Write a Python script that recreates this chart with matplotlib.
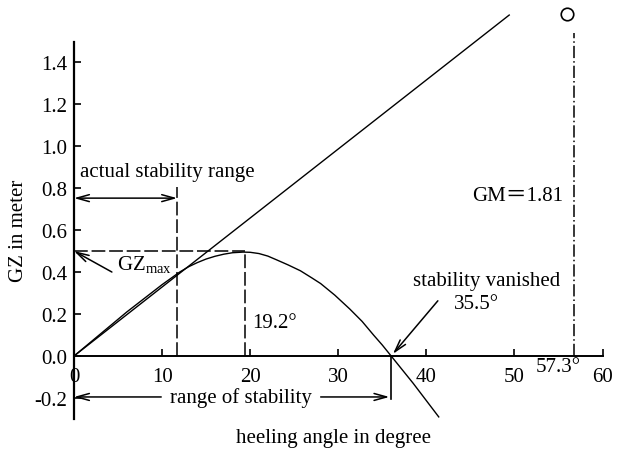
import matplotlib
matplotlib.use("Agg")
import matplotlib.pyplot as plt

plt.rcParams['font.family'] = ['Liberation Serif', 'Noto Sans CJK SC', 'DejaVu Serif']
plt.rcParams['mathtext.fontset'] = 'custom'
plt.rcParams['mathtext.rm'] = 'Liberation Serif'
plt.rcParams['mathtext.it'] = 'Liberation Serif:italic'

# ---- data ----
gz_angle = [0, 2, 4, 6, 8, 10, 12, 13, 14, 15, 16, 17, 18, 19.2, 20, 21, 22, 23,
            24.3, 25.7, 27, 28, 29.6, 31.3, 32.7, 34, 35, 36, 38.5, 41.4]
gz_value = [0, 0.07, 0.14, 0.21, 0.275, 0.34, 0.40, 0.425, 0.445, 0.462, 0.475, 0.485,
            0.492, 0.495, 0.494, 0.488, 0.476, 0.458, 0.434, 0.406, 0.372, 0.345,
            0.29, 0.224, 0.165, 0.10, 0.052, 0.0, -0.13, -0.29]
tangent_angle = [0, 49.4]
tangent_value = [0, 1.624]
gz_max = 0.5
angle_gzmax = 19.4
actual_range = 11.7
vanish_angle = 36.0
radian_angle = 56.7
gm_marker = (56.0, 1.63)
xticks = [0, 10, 20, 30, 40, 50, 60]
yticks = [-0.2, 0.0, 0.2, 0.4, 0.6, 0.8, 1.0, 1.2, 1.4]
ytick_labels = ["-0.2", "0.0", "0.2", "0.4", "0.6", "0.8", "1.0", "1.2", "1.4"]

FS = 15
fig = plt.figure(figsize=(6.22, 4.52), dpi=100)
ax = fig.add_axes([74 / 622, 0.0615, 0.864, 0.929])
ax.set_xlim(0, 61)
ax.set_ylim(-0.32, 1.68)

for s in ['top', 'right']:
    ax.spines[s].set_visible(False)
ax.spines['bottom'].set_position(('data', 0))
ax.spines['bottom'].set_bounds(0, 60)
ax.spines['left'].set_bounds(-0.3, 1.495)
ax.spines['left'].set_linewidth(1.6)
ax.spines['bottom'].set_linewidth(1.4)

ax.set_xticks(xticks)
ax.set_xticklabels([str(v) for v in xticks])
ax.set_yticks(yticks)
ax.set_yticklabels(ytick_labels)
ax.tick_params(axis='both', direction='in', length=5, width=1.2, labelsize=FS, colors='black')
ax.tick_params(axis='x', pad=8)
ax.tick_params(axis='y', pad=5)

# curves
ax.plot(gz_angle, gz_value, color='black', lw=1.0, clip_on=False)
ax.plot(tangent_angle, tangent_value, color='black', lw=1.0, clip_on=False)

dash = (0, (9, 2.5))
ax.plot([0, angle_gzmax], [gz_max, gz_max], color='black', lw=1.1, linestyle=dash)
ax.plot([angle_gzmax, angle_gzmax], [0, gz_max], color='black', lw=1.1, linestyle=dash)
ax.plot([actual_range, actual_range], [0, 0.805], color='black', lw=1.1, linestyle=dash)
ax.plot([radian_angle, radian_angle], [0, 1.54], color='black', lw=1.1,
        linestyle=(0, (8, 2, 1, 2)), clip_on=False)
ax.plot([vanish_angle, vanish_angle], [0, -0.205], color='black', lw=1.2)
ax.plot([gm_marker[0]], [gm_marker[1]], marker='o', markersize=9, markerfacecolor='white',
        markeredgecolor='black', markeredgewidth=1.2, clip_on=False)

arr = dict(arrowstyle='->,head_length=0.9,head_width=0.25', color='black', lw=1.1,
           shrinkA=0, shrinkB=0)
arr2 = dict(arrowstyle='<->,head_length=0.9,head_width=0.25', color='black', lw=1.1,
            shrinkA=0, shrinkB=0)

# actual stability range
ax.annotate('', xy=(actual_range, 0.752), xytext=(0, 0.752), arrowprops=arr2)
ax.text(0.7, 0.88, 'actual stability range', fontsize=FS, ha='left', va='center')

# GZmax
ax.annotate('', xy=(0, gz_max), xytext=(4.3, 0.40), arrowprops=arr)
ax.text(4.9, 0.44, r'GZ$_{\mathrm{max}}$', fontsize=FS, ha='left', va='center')

# 19.2
ax.text(20.2, 0.16, '19.2°', fontsize=FS, ha='left', va='center')

# stability vanished
ax.annotate('', xy=(36.2, 0.01), xytext=(41.3, 0.263), arrowprops=arr)
ax.text(46.8, 0.358, 'stability vanished', fontsize=FS, ha='center', va='center')
ax.text(45.7, 0.248, '35.5°', fontsize=FS, ha='center', va='center')

# GM
ax.text(50.4, 0.763, 'GM＝1.81', fontsize=FS, ha='center', va='center')
ax.text(55.0, -0.048, '57.3°', fontsize=FS, ha='center', va='center')

# range of stability
ax.annotate('', xy=(0, -0.195), xytext=(9.9, -0.195), arrowprops=arr)
ax.annotate('', xy=(35.8, -0.195), xytext=(28.0, -0.195), arrowprops=arr)
ax.text(19.0, -0.195, 'range of stability', fontsize=FS, ha='center', va='center')

# axis titles
ax.text(29.4, -0.386, 'heeling angle in degree', fontsize=FS, ha='center', va='center',
        clip_on=False)
ax.text(-6.35, 0.6, 'GZ in meter', fontsize=FS, ha='center', va='center', rotation=90,
        clip_on=False)

fig.savefig('out.png', dpi=100)
